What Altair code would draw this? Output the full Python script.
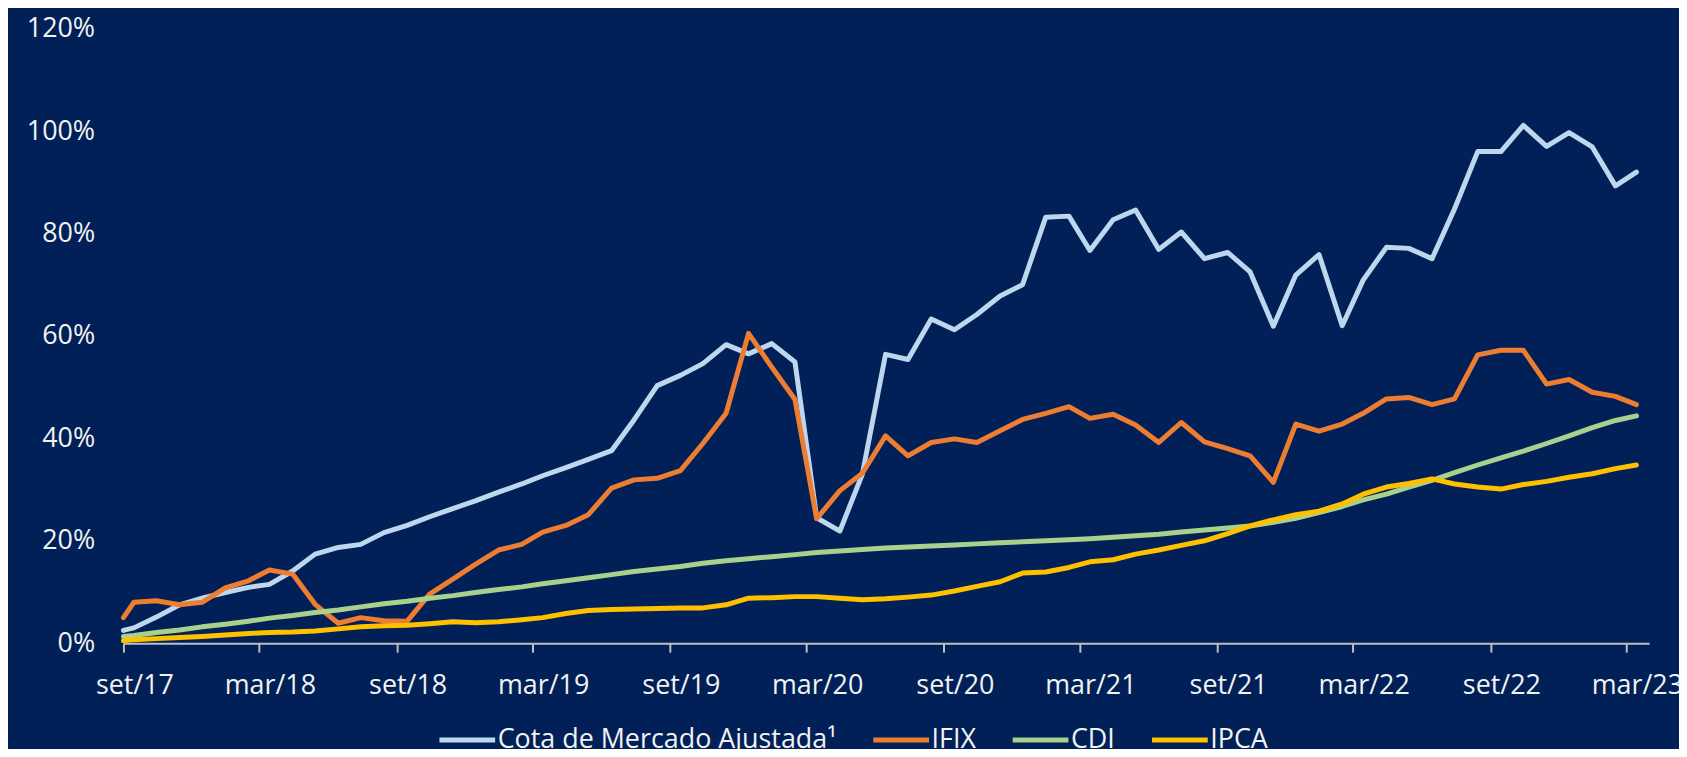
import altair as alt
import pandas as pd

# Series names and colours
series = ["Cota de Mercado Ajustada¹", "IFIX", "CDI", "IPCA"]
colors = ["#BDD7EE", "#ED7D31", "#A9D18E", "#FFC000"]

# Dates: start point, then mid-month points from set/17 to mar/23
dates = ["2017/09/01"] + [
    f"{2017 + (8 + i) // 12}/{(8 + i) % 12 + 1:02d}/15" for i in range(67)
]

cota = [2.5, 3.0, 5.1, 7.5, 8.8, 9.9, 10.9, 11.5, 14.1, 17.4, 18.7, 19.3, 21.6, 23.0,
        24.7, 26.3, 27.8, 29.5, 31.1, 32.7, 34.3, 35.9, 37.6, 43.6, 50.3, 52.3, 54.6,
        58.3, 56.5, 58.5, 54.9, 24.5, 21.9, 33.0, 56.4, 55.4, 63.3, 61.2, 64.2, 67.8,
        70.0, 83.2, 83.4, 76.7, 82.7, 84.6, 76.9, 80.3, 75.1, 76.3, 72.5, 61.9, 71.9,
        75.9, 62.0, 70.9, 77.3, 77.1, 75.1, 84.8, 96.0, 96.0, 101.1, 97.0, 99.7, 96.9,
        89.3, 92.0]
ifix = [5.0, 8.0, 8.3, 7.5, 8.0, 10.8, 12.2, 14.3, 13.5, 7.6, 3.9, 5.0, 4.4, 4.3, 9.6,
        12.5, 15.4, 18.2, 19.3, 21.7, 23.0, 25.1, 30.3, 31.9, 32.2, 33.7, 39.0, 44.9,
        60.5, 53.9, 47.6, 24.3, 29.8, 33.2, 40.5, 36.6, 39.2, 39.9, 39.2, 41.5, 43.7,
        44.9, 46.2, 43.9, 44.7, 42.6, 39.2, 43.1, 39.3, 38.0, 36.6, 31.4, 42.8, 41.4,
        42.8, 44.9, 47.7, 48.0, 46.6, 47.7, 56.3, 57.2, 57.2, 50.6, 51.5, 49.0, 48.2,
        46.6]
cdi = [1.3, 1.5, 2.1, 2.6, 3.2, 3.7, 4.3, 4.9, 5.4, 6.0, 6.5, 7.1, 7.7, 8.2, 8.8, 9.3,
       9.9, 10.5, 11.0, 11.6, 12.2, 12.8, 13.4, 14.0, 14.5, 15.0, 15.6, 16.1, 16.5,
       16.9, 17.3, 17.7, 18.0, 18.3, 18.6, 18.8, 19.0, 19.2, 19.4, 19.6, 19.8, 20.0,
       20.2, 20.4, 20.7, 21.0, 21.3, 21.7, 22.1, 22.5, 22.9, 23.6, 24.4, 25.5, 26.7,
       28.0, 29.1, 30.5, 31.8, 33.3, 34.8, 36.2, 37.5, 39.0, 40.5, 42.1, 43.5, 44.4]
ipca = [0.5, 0.7, 0.9, 1.1, 1.3, 1.6, 1.9, 2.1, 2.2, 2.4, 2.8, 3.2, 3.4, 3.5, 3.8, 4.2,
        4.0, 4.2, 4.6, 5.0, 5.8, 6.4, 6.6, 6.7, 6.8, 6.9, 6.9, 7.5, 8.8, 8.9, 9.1, 9.1,
        8.8, 8.5, 8.7, 9.0, 9.4, 10.2, 11.1, 12.0, 13.7, 13.9, 14.8, 15.9, 16.3, 17.4,
        18.2, 19.1, 20.0, 21.4, 22.9, 24.1, 25.1, 25.8, 27.2, 29.1, 30.5, 31.2, 32.1,
        31.1, 30.5, 30.1, 31.0, 31.6, 32.4, 33.1, 34.1, 34.8]

y_ticks = [0, 20, 40, 60, 80, 100, 120]
x_ticks = [(2017, 9), (2018, 3), (2018, 9), (2019, 3), (2019, 9), (2020, 3),
           (2020, 9), (2021, 3), (2021, 9), (2022, 3), (2022, 9), (2023, 3)]

rows = []
for name, vals in zip(series, [cota, ifix, cdi, ipca]):
    for d, v in zip(dates, vals):
        rows.append({"date": d, "value": v, "serie": name})
df = pd.DataFrame(rows)

FONT = "Open Sans"
TEXT = "#F2F2F2"
BG = "#002057"

x_enc = alt.X(
    "date:T",
    title=None,
    scale=alt.Scale(
        domain=[alt.DateTime(year=2017, month=9, date=1),
                alt.DateTime(year=2023, month=4, date=1)],
        nice=False,
    ),
    axis=alt.Axis(
        values=[alt.DateTime(year=y, month=m, date=1) for y, m in x_ticks],
        labelExpr="(month(datum.value) == 8 ? 'set' : 'mar') + '/' + timeFormat(datum.value, '%y')",
        grid=False,
        domain=True,
        domainColor="#BFBFBF",
        domainWidth=2,
        ticks=True,
        tickColor="#BFBFBF",
        tickWidth=2,
        tickSize=9,
        labelPadding=21,
        labelOffset=11,
        labelFont=FONT,
        labelFontSize=27,
        labelColor=TEXT,
        labelAngle=0,
        labelOverlap=False,
        labelFlush=False,
    ),
)

y_enc = alt.Y(
    "value:Q",
    title=None,
    scale=alt.Scale(domain=[0, 120], nice=False),
    axis=alt.Axis(
        values=y_ticks,
        labelExpr="datum.value + '%'",
        grid=False,
        domain=False,
        ticks=False,
        tickSize=0,
        labelPadding=29,
        labelFont=FONT,
        labelFontSize=27,
        labelColor=TEXT,
    ),
)

color_enc = alt.Color(
    "serie:N",
    scale=alt.Scale(domain=series, range=colors),
    legend=alt.Legend(
        title=None,
        orient="none",
        legendX=315,
        legendY=684,
        direction="horizontal",
        symbolType="stroke",
        symbolSize=3136,
        symbolStrokeWidth=5,
        labelFont=FONT,
        labelFontSize=27,
        labelColor=TEXT,
        labelLimit=700,
        labelOffset=0,
        columnPadding=26,
    ),
)

layers = []
for name in series:
    layers.append(
        alt.Chart(df)
        .transform_filter(alt.datum.serie == name)
        .mark_line(strokeWidth=5, strokeCap="round", strokeJoin="round")
        .encode(x=x_enc, y=y_enc, color=color_enc)
    )

chart = (
    alt.layer(*layers)
    .properties(
        width=1533,
        height=617.5,
        background=BG,
        padding={"left": 116, "top": 19, "right": 30, "bottom": 104.5},
        autosize=alt.AutoSizeParams(type="none"),
    )
    .configure_view(stroke=None)
)

chart.save("out.html", embed_options={"renderer": "svg", "actions": False})
